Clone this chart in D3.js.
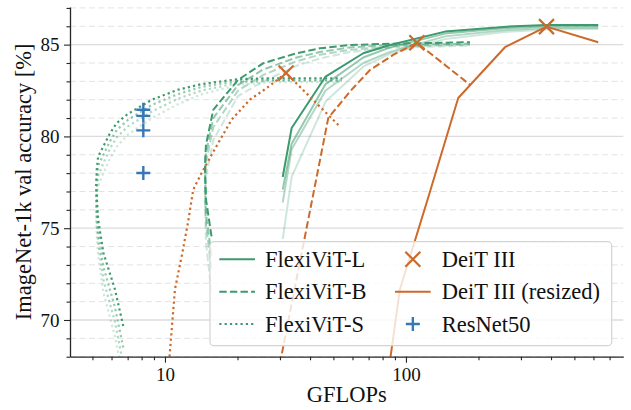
<!DOCTYPE html>
<html>
<head>
<meta charset="utf-8">
<script src="https://cdn.jsdelivr.net/npm/d3@7"></script>
<style>
  body { margin: 0; background: #fff; }
  svg text { font-family: "Liberation Serif", "DejaVu Serif", serif; fill: #111; }
</style>
</head>
<body>
<div class="chart"></div>
<script>
// FlexiViT-S (dotted) - same GFLOPs for every training run, darkest first
const flexiSGflops = [6.71, 6.20, 5.55, 5.28, 5.18, 5.21, 5.28, 5.55, 5.92, 6.31, 7.02, 8.83, 11.3, 14.2, 20.1, 27.3, 54.1];
const flexiSAcc1 = [69.67, 71.67, 73.66, 75.47, 77.28, 78.19, 78.91, 79.46, 80.18, 80.73, 81.23, 82.0, 82.54, 82.85, 83.12, 83.17, 83.17];
const flexiSAcc2 = [68.5, 70.7, 72.9, 74.8, 76.6, 77.6, 78.4, 79.0, 79.75, 80.35, 80.9, 81.72, 82.3, 82.7, 83.02, 83.08, 83.08];
const flexiSAcc3 = [67.6, 69.9, 72.2, 74.2, 76.0, 77.0, 77.85, 78.55, 79.35, 79.95, 80.55, 81.36, 82.05, 82.5, 82.92, 83.02, 83.02];
const flexiSAcc4 = [66.8, 69.1, 71.5, 73.5, 75.3, 76.4, 77.3, 78.0, 78.8, 79.45, 80.1, 81.0, 81.75, 82.3, 82.8, 82.95, 82.95];

// FlexiViT-B (dashed)
const flexiBGflops = [15.6, 14.8, 14.65, 14.8, 15.86, 20.1, 25.6, 35.2, 44.0, 58.6, 85.9, 184.4];
const flexiBAcc1 = [74.55, 76.56, 78.46, 79.55, 81.45, 83.08, 83.99, 84.53, 84.80, 84.98, 85.05, 85.13];
const flexiBAcc2 = [73.5, 75.8, 77.9, 79.1, 81.0, 82.8, 83.65, 84.3, 84.6, 84.85, 84.98, 85.05];
const flexiBAcc3 = [72.8, 75.2, 77.4, 78.6, 80.5, 82.5, 83.35, 84.1, 84.45, 84.72, 84.9, 85.0];
const flexiBAcc4 = [71.5, 74.2, 76.5, 77.8, 79.8, 82.2, 83.0, 83.85, 84.25, 84.6, 84.82, 84.95];

// FlexiViT-L (solid)
const flexiLGflops = [30.8, 33.55, 46.4, 66.5, 85.9, 145.2, 262, 384, 628];
const flexiLAcc1 = [77.79, 80.46, 83.26, 84.53, 84.98, 85.71, 85.98, 86.07, 86.07];
const flexiLAcc2 = [77.1, 79.6, 82.85, 84.3, 84.85, 85.6, 85.9, 86.0, 86.0];
const flexiLAcc3 = [76.4, 79.3, 82.5, 84.0, 84.6, 85.45, 85.8, 85.9, 85.92];
const flexiLAcc4 = [74.4, 77.8, 81.9, 83.8, 84.5, 85.3, 85.7, 85.82, 85.85];

// DeiT III at native size (S, B, L)
const deitGflops = [31.8, 111, 383];
const deitAcc = [83.45, 85.1, 85.98];

// DeiT III resized
const deitSResGflops = [10.36, 11.0, 11.77, 12.46, 13.1, 14.19, 16.63, 18.9, 22.5, 26.4, 31.8, 53.2];
const deitSResAcc = [67.43, 71.67, 73.57, 75.31, 77.10, 78.01, 79.64, 80.91, 82.0, 82.63, 83.45, 80.54];
const deitBResGflops = [29.4, 47.6, 58.6, 70.9, 88.5, 111, 185];
const deitBResAcc = [67.05, 81.0, 82.45, 83.62, 84.44, 85.1, 82.8];
const deitLResGflops = [83.8, 94.4, 123.0, 164.8, 257.6, 383, 628];
const deitLResAcc = [66.78, 71.67, 76.56, 82.09, 84.86, 85.98, 85.13];

// ResNet50
const resnetGflops = [8.13, 8.13, 8.13, 8.13];
const resnetAcc = [81.45, 81.12, 80.33, 78.01];

const yMajor = [70, 75, 80, 85];
const xMajor = [10, 100];

const green = "#3c9a6e",
    orange = "#cd6a2a",
    blue = "#3677b6";

var width = 631,
    height = 410,
    plotL = 70, plotR = 623.3, plotT = 7, plotB = 356.7;

var x = d3.scaleLog()
    .domain([4.035, 798])
    .range([plotL, plotR]);

var y = d3.scaleLinear()
    .domain([68, 87.05])
    .range([plotB, plotT]);

var svg = d3.select(".chart")
    .append("svg")
    .attr("width", width)
    .attr("height", height);

svg.append("defs").append("clipPath")
    .attr("id", "plot")
    .append("rect")
    .attr("x", plotL).attr("y", plotT)
    .attr("width", plotR - plotL).attr("height", plotB - plotT);

// grid: every integer dashed, majors solid
let minorY = d3.range(68, 88).filter(v => yMajor.indexOf(v) < 0);
svg.append("g").selectAll("line")
    .data(minorY)
    .enter().append("line")
    .attr("x1", plotL).attr("x2", plotR)
    .attr("y1", d => y(d)).attr("y2", d => y(d))
    .attr("stroke", "#e3e3e3")
    .attr("stroke-width", 1)
    .attr("stroke-dasharray", "6,3.5");
svg.append("g").selectAll("line")
    .data(yMajor)
    .enter().append("line")
    .attr("x1", plotL).attr("x2", plotR)
    .attr("y1", d => y(d)).attr("y2", d => y(d))
    .attr("stroke", "#dcdcdc")
    .attr("stroke-width", 1.3);

var line = d3.line()
    .x(d => x(d[0]))
    .y(d => y(d[1]));

var dashes = { solid: null, dashed: "7.4,3.2", dotted: "2.2,3.1" };

var plot = svg.append("g").attr("clip-path", "url(#plot)");

function drawLine(gf, acc, color, style, alpha) {
  plot.append("path")
      .datum(d3.zip(gf, acc))
      .attr("d", line)
      .attr("fill", "none")
      .attr("stroke", color)
      .attr("stroke-opacity", alpha)
      .attr("stroke-width", style === "dotted" ? 2.2 : 2)
      .attr("stroke-linejoin", "round")
      .attr("stroke-dasharray", dashes[style]);
}

let alphas = [1, 0.55, 0.4, 0.25];
let families = [
  [flexiSGflops, [flexiSAcc1, flexiSAcc2, flexiSAcc3, flexiSAcc4], "dotted"],
  [flexiBGflops, [flexiBAcc1, flexiBAcc2, flexiBAcc3, flexiBAcc4], "dashed"],
  [flexiLGflops, [flexiLAcc1, flexiLAcc2, flexiLAcc3, flexiLAcc4], "solid"]
];
families.forEach(function(f) {
  for (let i = 3; i >= 0; i--) drawLine(f[0], f[1][i], green, f[2], alphas[i]);
});

drawLine(deitSResGflops, deitSResAcc, orange, "dotted", 1);
drawLine(deitBResGflops, deitBResAcc, orange, "dashed", 1);
drawLine(deitLResGflops, deitLResAcc, orange, "solid", 1);

// markers
function cross(g, cx, cy, r) {
  g.append("path")
      .attr("d", `M${cx - r},${cy - r}L${cx + r},${cy + r}M${cx - r},${cy + r}L${cx + r},${cy - r}`)
      .attr("stroke", orange).attr("stroke-width", 2.2).attr("fill", "none");
}
function plus(g, cx, cy, r) {
  g.append("path")
      .attr("d", `M${cx - r},${cy}L${cx + r},${cy}M${cx},${cy - r}L${cx},${cy + r}`)
      .attr("stroke", blue).attr("stroke-width", 2.4).attr("fill", "none");
}
d3.zip(deitGflops, deitAcc).forEach(d => cross(plot, x(d[0]), y(d[1]), 7.5));
d3.zip(resnetGflops, resnetAcc).forEach(d => plus(plot, x(d[0]), y(d[1]), 7));

// axes
svg.append("g")
    .attr("transform", `translate(${plotL},0)`)
    .call(d3.axisLeft(y).tickValues(yMajor).tickSize(6).tickPadding(4.5).tickSizeOuter(0));
svg.append("g")
    .attr("transform", `translate(${plotL},0)`)
    .call(d3.axisLeft(y).tickValues(minorY).tickSize(3.5).tickFormat("").tickSizeOuter(0))
    .select(".domain").remove();

let minorX = [5, 6, 7, 8, 9, 20, 30, 40, 50, 60, 70, 80, 90, 200, 300, 400, 500, 600, 700];
svg.append("g")
    .attr("transform", `translate(0,${plotB})`)
    .call(d3.axisBottom(x).tickValues(xMajor).tickFormat(d3.format("d")).tickSize(6).tickPadding(4.6).tickSizeOuter(0));
svg.append("g")
    .attr("transform", `translate(0,${plotB})`)
    .call(d3.axisBottom(x).tickValues(minorX).tickSize(3.5).tickFormat("").tickSizeOuter(0))
    .select(".domain").remove();

svg.selectAll(".domain").attr("stroke", "#262626").attr("stroke-width", 1.3);
svg.selectAll(".tick line").attr("stroke", "#262626").attr("stroke-width", 1.1);
svg.selectAll(".tick text").style("font-size", "19px").attr("fill", "#111");

svg.append("text")
    .attr("x", 346.7)
    .attr("y", 402)
    .attr("text-anchor", "middle")
    .style("font-size", "22.5px")
    .text("GFLOPs");

svg.append("text")
    .attr("transform", `translate(31,${(plotT + plotB) / 2}) rotate(-90)`)
    .attr("text-anchor", "middle")
    .style("font-size", "22.5px")
    .text("ImageNet-1k val accuracy [%]");

// legend
let legendLabels = ["FlexiViT-L", "FlexiViT-B", "FlexiViT-S", "DeiT III", "DeiT III (resized)", "ResNet50"];
let legend = svg.append("g");
legend.append("rect")
    .attr("x", 210).attr("y", 241.7)
    .attr("width", 401.7).attr("height", 104)
    .attr("rx", 4)
    .attr("fill", "#fff").attr("fill-opacity", 0.8)
    .attr("stroke", "#d4d4d4").attr("stroke-width", 1.2);

let rowY = [259.3, 291.7, 324];
legendLabels.forEach(function(lab, i) {
  let col = Math.floor(i / 3), ry = rowY[i % 3];
  let hx0 = col === 0 ? 219.3 : 395, hx1 = hx0 + 35.7, tx = col === 0 ? 265 : 441.7;
  if (i < 3) {
    legend.append("line")
        .attr("x1", hx0).attr("x2", hx1).attr("y1", ry).attr("y2", ry)
        .attr("stroke", green).attr("stroke-width", i === 2 ? 2.2 : 2)
        .attr("stroke-dasharray", dashes[["solid", "dashed", "dotted"][i]]);
  } else if (i === 3) {
    cross(legend, (hx0 + hx1) / 2, ry, 7.5);
  } else if (i === 4) {
    legend.append("line")
        .attr("x1", hx0).attr("x2", hx1).attr("y1", ry).attr("y2", ry)
        .attr("stroke", orange).attr("stroke-width", 2);
  } else {
    plus(legend, (hx0 + hx1) / 2, ry, 7);
  }
  legend.append("text")
      .attr("x", tx).attr("y", ry)
      .attr("dy", "0.34em")
      .style("font-size", "22.5px")
      .text(lab);
});
</script>
</body>
</html>
